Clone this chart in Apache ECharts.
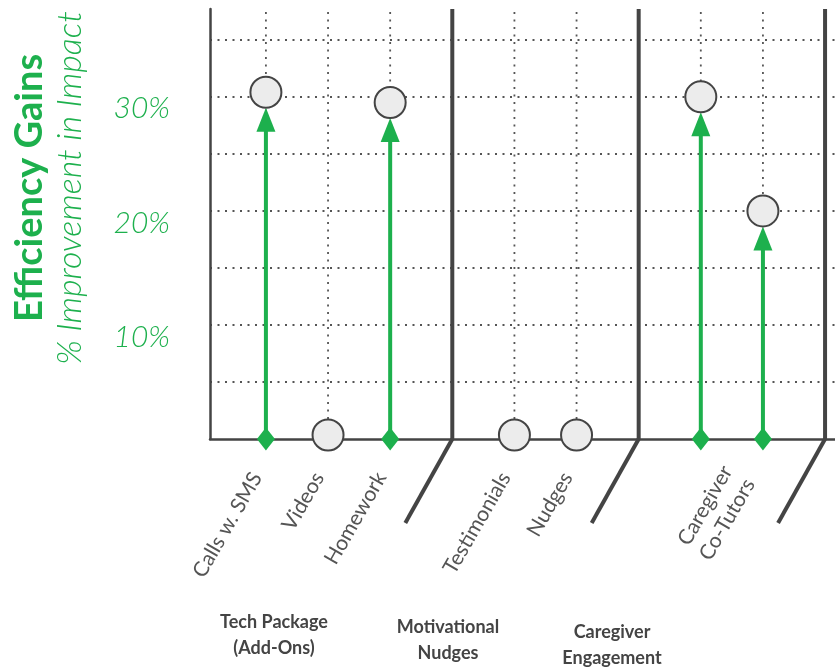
<!DOCTYPE html>
<html><head><meta charset="utf-8">
<script src="https://cdn.jsdelivr.net/npm/echarts@6/dist/echarts.min.js"></script>
<style>html,body{margin:0;padding:0;background:#fff}#c{width:835px;height:667px}</style>
</head><body><div id="c"></div>
<script>
// ---- data ----
const itemNames = ['Calls w. SMS', 'Videos', 'Homework', 'Testimonials', 'Nudges', 'Caregiver', 'Co-Tutors'];
const itemSlots = [0, 1, 2, 4, 5, 7, 8];
const impact = [30.4, 0, 29.5, 0, 0, 30, 20];
const labels = ['Calls w. SMS', 'Videos', 'Homework', 'Testimonials', 'Nudges', 'Caregiver\nCo-Tutors'];
const labelSlots = [0, 1, 2, 4, 5, 7.75];
const separatorSlots = [3, 6, 9];
const groups = ['Tech Package\n(Add-Ons)', 'Motivational\nNudges', 'Caregiver\nEngagement'];
const yTickLabels = [10, 20, 30];
const Y_MAX = 37.7;

const GREEN = '#1DB04D';
const DARK = '#444';
const DOT = '#555';

const chart = echarts.init(document.getElementById('c'));

const option = {
  animation: false,
  backgroundColor: '#fff',
  grid: { left: 210, right: 0, top: 9, bottom: 228 },
  xAxis: {
    type: 'value', min: -0.9, max: 9.16,
    axisLine: { show: true, onZero: false, lineStyle: { color: DARK, width: 2.5 } },
    axisTick: { show: false }, axisLabel: { show: false }, splitLine: { show: false }
  },
  yAxis: {
    type: 'value', min: 0, max: Y_MAX, interval: 5,
    axisLine: { show: true, onZero: false, lineStyle: { color: DARK, width: 2.5 } },
    axisTick: { show: false },
    axisLabel: {
      formatter: v => yTickLabels.includes(v) ? v + '%' : '',
      color: GREEN, fontFamily: 'Lato', fontStyle: 'italic', fontWeight: 300, fontSize: 30,
      margin: 40, verticalAlign: 'top', lineHeight: 24
    },
    splitLine: { show: true, showMaxLine: false, showMinLine: false,
      lineStyle: { color: DOT, type: [2, 5.5], width: 1.8 } }
  },
  graphic: [
    { type: 'text', x: 30, y: 188, rotation: Math.PI / 2,
      style: { text: 'Efficiency Gains', font: 'bold 38px Lato', fill: GREEN, align: 'center', verticalAlign: 'middle' } },
    { type: 'text', x: 70, y: 188, rotation: Math.PI / 2,
      style: { text: '% Improvement in Impact', font: 'italic 300 34px Lato', fill: GREEN, align: 'center', verticalAlign: 'middle' } },
    { type: 'text', x: 274, y: 635,
      style: { text: groups[0], font: 'bold 18px Lato', fill: DARK, align: 'center', verticalAlign: 'middle', lineHeight: 26 } },
    { type: 'text', x: 448, y: 640,
      style: { text: groups[1], font: 'bold 18px Lato', fill: DARK, align: 'center', verticalAlign: 'middle', lineHeight: 26 } },
    { type: 'text', x: 612, y: 645,
      style: { text: groups[2], font: 'bold 18px Lato', fill: DARK, align: 'center', verticalAlign: 'middle', lineHeight: 26 } }
  ],
  series: [
    { // vertical dotted guides at each item
      type: 'custom', z: 1, clip: false, silent: true,
      data: itemSlots.map(s => [s, 0]),
      renderItem: (params, api) => {
        const b = api.coord([api.value(0), 0]);
        const t = api.coord([api.value(0), Y_MAX]);
        return { type: 'line', shape: { x1: b[0], y1: t[1] + 3, x2: b[0], y2: b[1] },
          style: { stroke: DOT, lineWidth: 1.8, lineDash: [2, 5.5] } };
      }
    },
    { // group separators
      type: 'custom', z: 3, clip: false, silent: true,
      data: separatorSlots.map(s => [s, 0]),
      renderItem: (params, api) => {
        const b = api.coord([api.value(0), 0]);
        const t = api.coord([api.value(0), Y_MAX]);
        return { type: 'group', children: [
          { type: 'line', shape: { x1: b[0], y1: t[1], x2: b[0], y2: b[1] }, style: { stroke: DARK, lineWidth: 4 } },
          { type: 'line', shape: { x1: b[0], y1: b[1], x2: b[0] - 47, y2: b[1] + 84 }, style: { stroke: DARK, lineWidth: 4 } }
        ] };
      }
    },
    { // arrows
      type: 'custom', z: 4, clip: false, silent: true,
      data: itemSlots.map((s, i) => [s, impact[i]]),
      renderItem: (params, api) => {
        const v = api.value(1);
        if (!(v > 0)) return { type: 'group', children: [] };
        const b = api.coord([api.value(0), 0]);
        const t = api.coord([api.value(0), v]);
        const tipY = t[1] + 15.5, hH = 24, hW = 19;
        return { type: 'group', children: [
          { type: 'line', shape: { x1: b[0], y1: b[1], x2: b[0], y2: tipY + hH - 2 }, style: { stroke: GREEN, lineWidth: 4 } },
          { type: 'polygon', shape: { points: [[b[0], tipY], [b[0] - hW / 2, tipY + hH], [b[0] + hW / 2, tipY + hH]] }, style: { fill: GREEN } },
          { type: 'polygon', shape: { points: [[b[0], b[1] - 11.5], [b[0] + 9, b[1]], [b[0], b[1] + 11.5], [b[0] - 9, b[1]]] }, style: { fill: GREEN } }
        ] };
      }
    },
    { // circles
      type: 'scatter', z: 5, symbol: 'circle', symbolSize: 31, silent: true,
      itemStyle: { color: '#ECECEC', borderColor: DARK, borderWidth: 2, opacity: 1 },
      data: itemSlots.map((s, i) => impact[i] === 0 ? { value: [s, 0], symbolOffset: [0, -4] } : [s, impact[i]])
    },
    { // category labels
      type: 'custom', z: 6, clip: false, silent: true,
      data: labelSlots.map((s, i) => [s, 0, i]),
      renderItem: (params, api) => {
        const b = api.coord([api.value(0), 0]);
        return { type: 'text', x: b[0] - 9, y: b[1] + 35, rotation: Math.PI / 3,
          style: { text: labels[api.value(2)], font: '21px Lato', fill: '#555', align: 'right', verticalAlign: 'middle', lineHeight: 26 } };
      }
    }
  ]
};
chart.setOption(option);
</script>
</body></html>
